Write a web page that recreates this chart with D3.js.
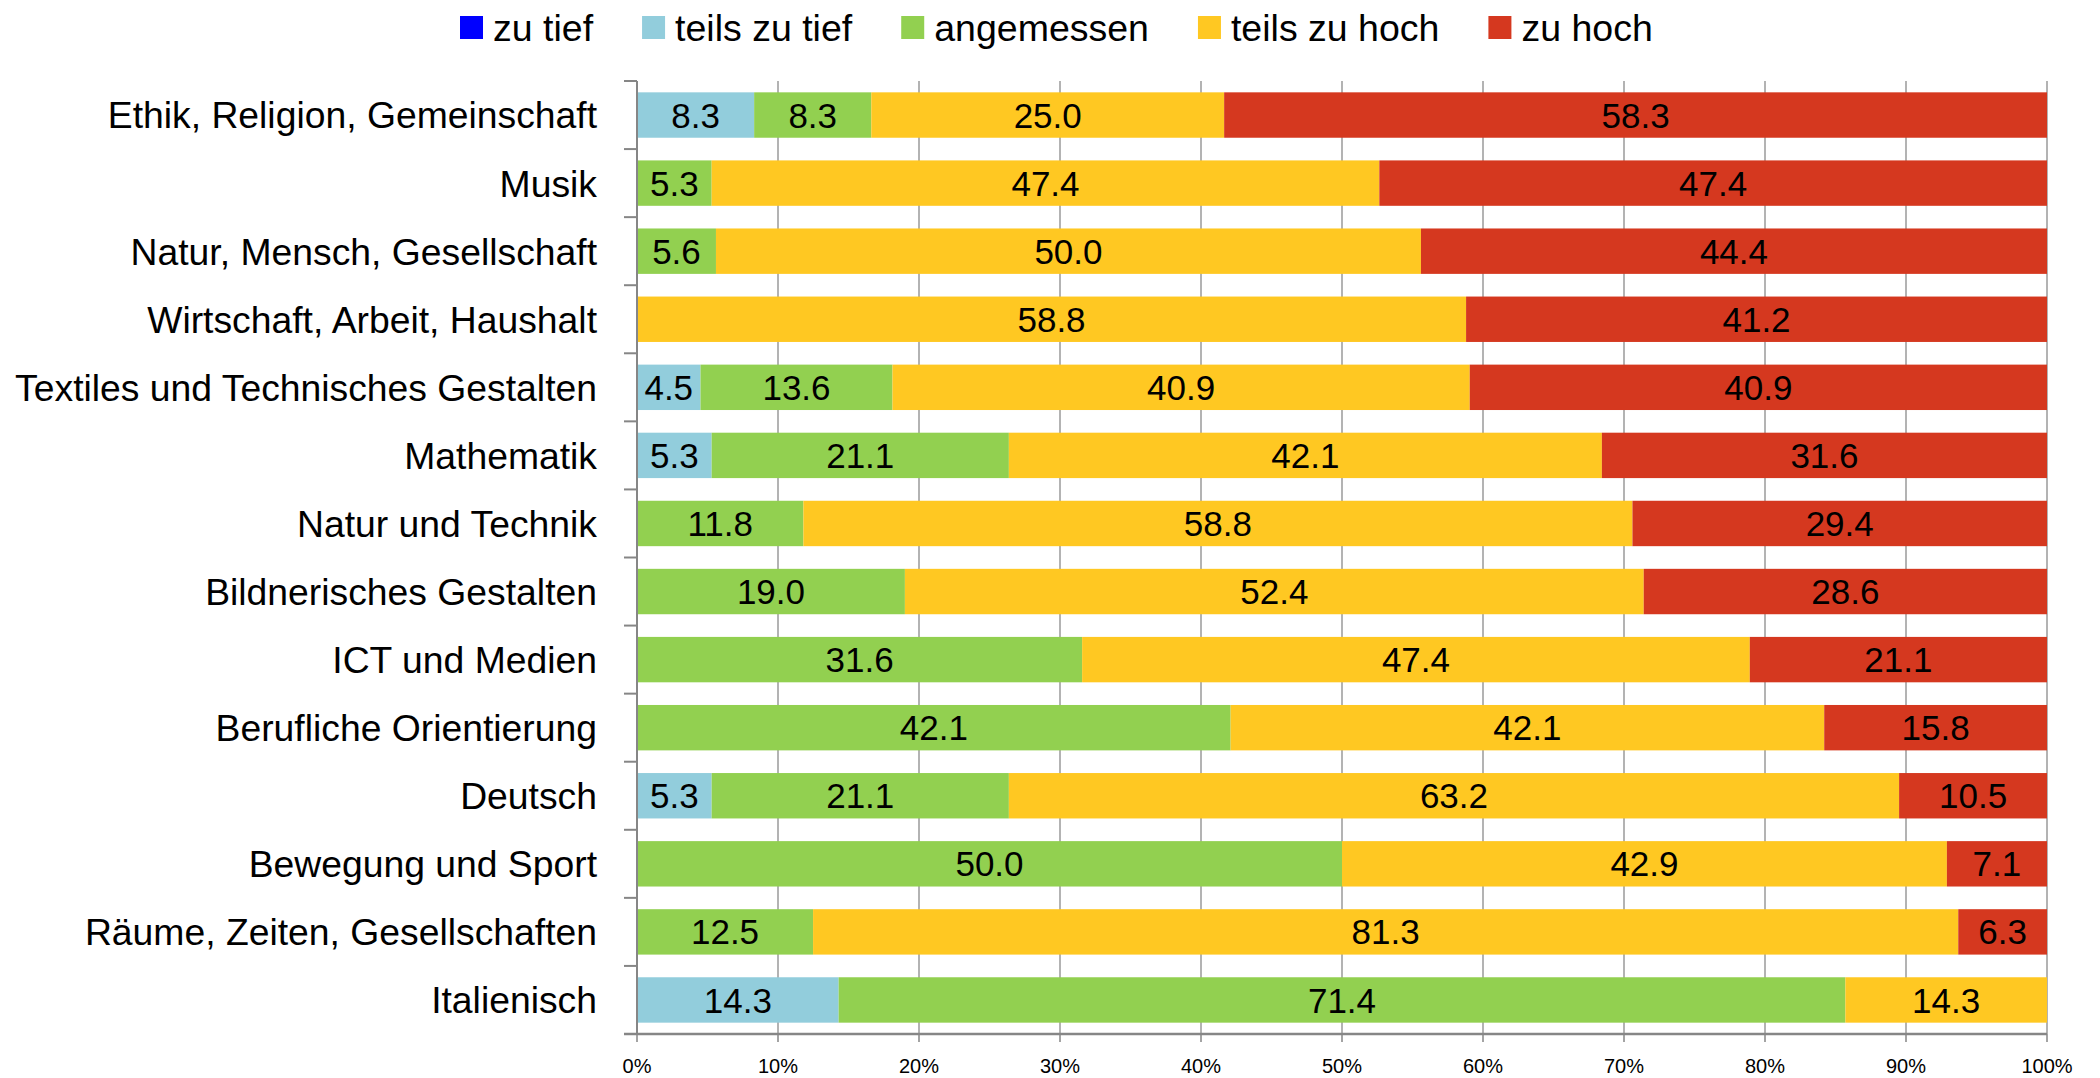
<!DOCTYPE html>
<html>
<head>
<meta charset="utf-8">
<script src="https://cdn.jsdelivr.net/npm/d3@7"></script>
<style>
  html, body { margin: 0; padding: 0; background: #fff; }
  svg text { font-family: "Liberation Sans", Arial, sans-serif; fill: #000; }
</style>
</head>
<body>
<svg id="chart"></svg>
<script>
// categories, top to bottom
var subjects = [
  "Ethik, Religion, Gemeinschaft",
  "Musik",
  "Natur, Mensch, Gesellschaft",
  "Wirtschaft, Arbeit, Haushalt",
  "Textiles und Technisches Gestalten",
  "Mathematik",
  "Natur und Technik",
  "Bildnerisches Gestalten",
  "ICT und Medien",
  "Berufliche Orientierung",
  "Deutsch",
  "Bewegung und Sport",
  "Räume, Zeiten, Gesellschaften",
  "Italienisch"
];

var seriesNames = ["zu tief", "teils zu tief", "angemessen", "teils zu hoch", "zu hoch"];
var seriesColors = ["#0000ff", "#92cddc", "#92d050", "#ffc822", "#d5381f"];

// percentages per series, same order as subjects
var zuTief      = [0, 0, 0, 0, 0, 0, 0, 0, 0, 0, 0, 0, 0, 0];
var teilsZuTief = [8.3, 0, 0, 0, 4.5, 5.3, 0, 0, 0, 0, 5.3, 0, 0, 14.3];
var angemessen  = [8.3, 5.3, 5.6, 0, 13.6, 21.1, 11.8, 19.0, 31.6, 42.1, 21.1, 50.0, 12.5, 71.4];
var teilsZuHoch = [25.0, 47.4, 50.0, 58.8, 40.9, 42.1, 58.8, 52.4, 47.4, 42.1, 63.2, 42.9, 81.3, 14.3];
var zuHoch      = [58.3, 47.4, 44.4, 41.2, 40.9, 31.6, 29.4, 28.6, 21.1, 15.8, 10.5, 7.1, 6.3, 0];

var xTicks = [0, 0.1, 0.2, 0.3, 0.4, 0.5, 0.6, 0.7, 0.8, 0.9, 1.0];

var width = 2100, height = 1078;
var margin = { top: 81, right: 53, bottom: 44, left: 637 };

var svg = d3.select("#chart")
  .attr("width", width)
  .attr("height", height);

// rows: 100% stacked, so each row is normalised by its sum
var allSeries = [zuTief, teilsZuTief, angemessen, teilsZuHoch, zuHoch];
var rows = subjects.map(function (s, i) {
  var row = { subject: s };
  var total = 0;
  seriesNames.forEach(function (n, k) { row[n] = allSeries[k][i]; total += allSeries[k][i]; });
  seriesNames.forEach(function (n) { row[n] = row[n] / total; });
  return row;
});

var stacked = d3.stack().keys(seriesNames)(rows);

var xScale = d3.scaleLinear()
  .domain([0, 1])
  .range([margin.left, width - margin.right]);

var yScale = d3.scaleBand()
  .domain(subjects)
  .range([margin.top, height - margin.bottom])
  .paddingInner(0.333)
  .paddingOuter(0.1665);

var color = d3.scaleOrdinal().domain(seriesNames).range(seriesColors);

// vertical gridlines
svg.append("g")
  .attr("class", "grid")
  .selectAll("line")
  .data(xTicks.slice(1))
  .enter()
  .append("line")
  .attr("x1", function (d) { return xScale(d); })
  .attr("x2", function (d) { return xScale(d); })
  .attr("y1", margin.top)
  .attr("y2", height - margin.bottom)
  .style("stroke", "#9a9a9a")
  .style("stroke-width", 1.5);

// bars
var layers = svg.append("g")
  .attr("class", "bars")
  .selectAll("g")
  .data(stacked)
  .enter()
  .append("g")
  .style("fill", function (d) { return color(d.key); });

layers.selectAll("rect")
  .data(function (d) { return d; })
  .enter()
  .append("rect")
  .attr("x", function (d) { return xScale(d[0]); })
  .attr("y", function (d) { return yScale(d.data.subject); })
  .attr("width", function (d) { return xScale(d[1]) - xScale(d[0]); })
  .attr("height", yScale.bandwidth());

// value labels
stacked.forEach(function (layer, k) {
  svg.append("g")
    .attr("class", "labels")
    .selectAll("text")
    .data(layer.filter(function (d, i) { return allSeries[k][i] > 0; }).map(function (d) {
      return { d: d, v: allSeries[k][subjects.indexOf(d.data.subject)] };
    }))
    .enter()
    .append("text")
    .attr("x", function (o) { return (xScale(o.d[0]) + xScale(o.d[1])) / 2; })
    .attr("y", function (o) { return yScale(o.d.data.subject) + yScale.bandwidth() / 2; })
    .attr("text-anchor", "middle")
    .attr("dy", "0.36em")
    .style("font-size", "35px")
    .text(function (o) { return o.v.toFixed(1); });
});

// y axis
var yAxis = svg.append("g").attr("class", "y-axis");
var bounds = subjects.map(function (s) { return yScale(s) - yScale.step() * 0.1665; });
bounds.push(height - margin.bottom);

yAxis.selectAll("line.tick")
  .data(bounds)
  .enter()
  .append("line")
  .attr("class", "tick")
  .attr("x1", margin.left - 13)
  .attr("x2", margin.left)
  .attr("y1", function (d) { return d; })
  .attr("y2", function (d) { return d; })
  .style("stroke", "#868686")
  .style("stroke-width", 2);

yAxis.append("line")
  .attr("x1", margin.left)
  .attr("x2", margin.left)
  .attr("y1", margin.top)
  .attr("y2", height - margin.bottom)
  .style("stroke", "#868686")
  .style("stroke-width", 2);

yAxis.selectAll("text")
  .data(subjects)
  .enter()
  .append("text")
  .attr("x", margin.left - 40)
  .attr("y", function (d) { return yScale(d) + yScale.bandwidth() / 2; })
  .attr("dy", "0.36em")
  .attr("text-anchor", "end")
  .style("font-size", "37.3px")
  .text(function (d) { return d; });

// x axis
var xAxis = svg.append("g").attr("class", "x-axis");
var axisY = height - margin.bottom;

xAxis.append("line")
  .attr("x1", margin.left - 13)
  .attr("x2", width - margin.right)
  .attr("y1", axisY)
  .attr("y2", axisY)
  .style("stroke", "#868686")
  .style("stroke-width", 2.5);

xAxis.selectAll("line.tick")
  .data(xTicks)
  .enter()
  .append("line")
  .attr("class", "tick")
  .attr("x1", function (d) { return xScale(d); })
  .attr("x2", function (d) { return xScale(d); })
  .attr("y1", axisY)
  .attr("y2", axisY + 8)
  .style("stroke", "#868686")
  .style("stroke-width", 1.5);

xAxis.selectAll("text")
  .data(xTicks)
  .enter()
  .append("text")
  .attr("x", function (d) { return xScale(d); })
  .attr("y", axisY + 32)
  .attr("dy", "0.36em")
  .attr("text-anchor", "middle")
  .style("font-size", "20px")
  .text(d3.format(".0%"));

// legend
var legend = svg.append("g").attr("class", "legend");
var lx = 460;
seriesNames.forEach(function (name) {
  legend.append("rect")
    .attr("x", lx)
    .attr("y", 16)
    .attr("width", 23)
    .attr("height", 23)
    .style("fill", color(name));
  var t = legend.append("text")
    .attr("x", lx + 33)
    .attr("y", 27.5)
    .attr("dy", "0.36em")
    .style("font-size", "37.5px")
    .text(name);
  lx += 33 + t.node().getComputedTextLength() + 49;
});
</script>
</body>
</html>
